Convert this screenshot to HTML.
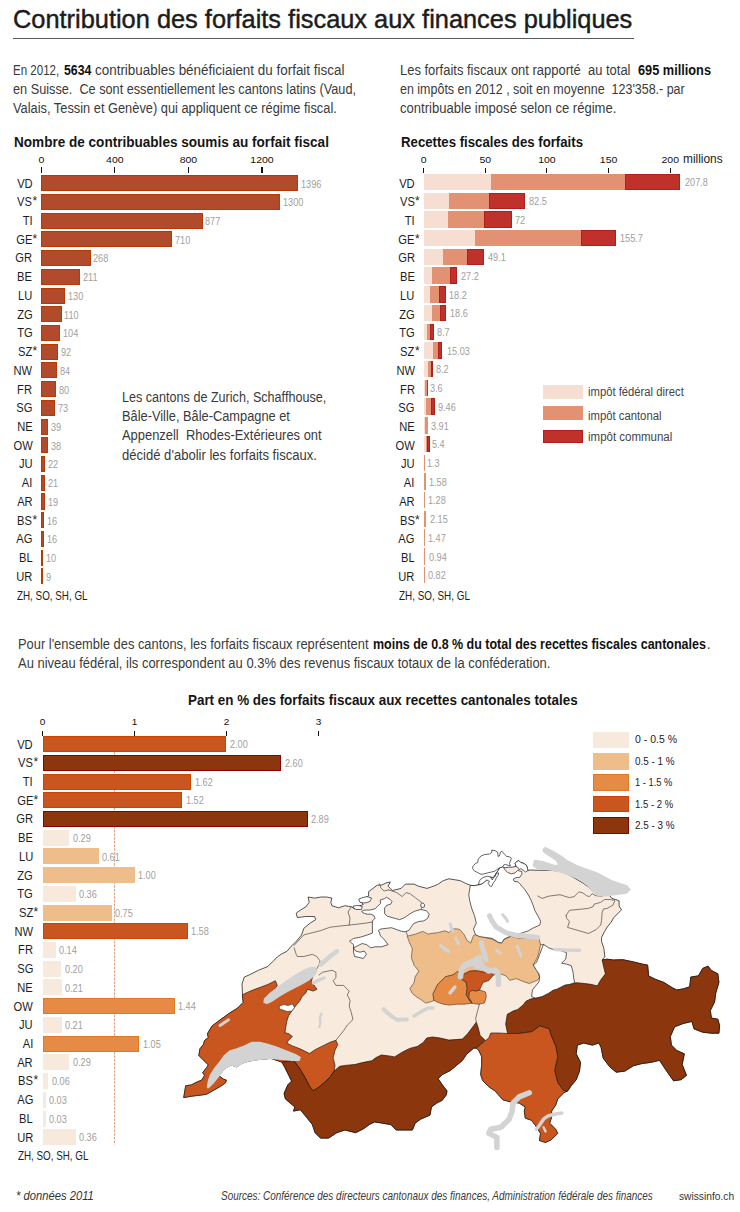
<!DOCTYPE html>
<html><head><meta charset="utf-8"><style>
html,body{margin:0;padding:0;background:#fff;}
body{width:740px;height:1212px;position:relative;overflow:hidden;font-family:"Liberation Sans", sans-serif;}
.t{position:absolute;white-space:nowrap;line-height:1;}
.r{position:absolute;box-sizing:border-box;}
svg{position:absolute;left:0;top:0;}
</style></head><body>
<svg width="740" height="1212" viewBox="0 0 740 1212" style="position:absolute;left:0;top:0">
<g stroke-linejoin="round" stroke-linecap="round">
<path d="M183.8,1097.2 L185.7,1085.8 L191.4,1084.9 L197.0,1082.0 L201.8,1080.1 L204.6,1075.4 L202.7,1072.6 L206.5,1067.8 L208.4,1065.0 L198.9,1055.5 L199.9,1048.9 L203.6,1044.2 L204.6,1040.4 L208.4,1037.6 L207.4,1033.8 L212.0,1026.0 L220.0,1020.0 L230.0,1012.8 L237.6,1008.1 L243.2,1002.4 L242.5,994.0 L242.0,984.0 L244.3,977.0 L249.0,975.0 L258.4,970.3 L267.8,966.5 L273.5,960.8 L277.3,957.0 L281.1,954.2 L286.8,951.4 L291.9,945.7 L296.2,941.4 L301.6,934.9 L303.8,928.4 L310.3,923.0 L315.7,919.7 L314.6,916.5 L305.9,916.5 L297.3,917.6 L296.2,913.2 L300.5,910.0 L305.9,906.8 L309.2,902.4 L308.1,897.0 L314.6,898.1 L321.1,897.0 L326.5,897.0 L331.9,898.1 L330.8,902.4 L331.9,905.7 L338.4,907.8 L344.9,905.7 L351.4,906.8 L354.6,908.9 L360.0,905.7 L363.2,904.6 L360.0,900.3 L364.3,898.1 L368.6,895.9 L368.6,891.6 L373.0,888.4 L377.3,885.1 L381.6,885.1 L385.9,883.0 L390.3,881.9 L388.1,886.2 L392.4,890.5 L401.1,888.4 L405.4,884.1 L414.1,884.1 L418.4,886.2 L427.0,888.4 L433.5,886.2 L437.6,884.5 L443.2,880.7 L448.9,878.8 L454.6,879.7 L460.3,880.7 L465.9,883.5 L470.7,885.4 L474.5,885.7 L479.2,884.7 L482.0,883.8 L486.8,880.0 L490.5,877.2 L493.4,877.6 L496.2,873.4 L500.0,867.7 L502.8,866.8 L503.8,867.7 L505.7,867.7 L508.5,867.2 L512.3,867.2 L516.1,866.3 L515.1,863.4 L516.6,861.6 L518.9,860.6 L520.8,862.5 L523.7,863.4 L526.5,865.3 L527.4,868.2 L527.9,870.5 L530.0,870.0 L535.0,870.2 L540.0,870.3 L550.8,870.3 L561.6,871.4 L572.4,876.8 L583.2,883.2 L591.9,889.7 L598.4,895.1 L608.2,893.8 L612.0,898.5 L615.8,899.5 L619.1,900.9 L619.1,906.1 L621.5,909.9 L618.7,912.7 L613.9,917.4 L611.1,922.2 L607.3,926.9 L604.5,931.6 L601.6,937.3 L601.6,941.6 L603.8,948.1 L604.9,956.8 L602.2,960.0 L607.0,959.2 L613.5,960.0 L622.7,959.7 L633.5,961.9 L642.2,964.1 L647.6,965.1 L648.6,975.9 L655.1,979.2 L663.8,982.4 L672.4,987.8 L676.8,990.0 L683.2,988.9 L689.7,986.8 L690.8,977.0 L698.4,975.9 L702.7,968.4 L708.1,966.2 L711.4,970.5 L717.8,973.8 L718.9,982.4 L715.7,993.2 L714.6,1001.9 L710.3,1010.5 L711.4,1018.1 L717.8,1019.2 L719.6,1025.7 L718.9,1033.2 L711.4,1033.2 L702.7,1032.2 L694.1,1028.9 L691.9,1021.4 L683.2,1023.5 L674.6,1026.8 L670.3,1036.5 L671.4,1045.1 L676.8,1050.5 L684.3,1053.8 L682.2,1064.6 L686.5,1075.4 L681.1,1079.7 L673.5,1080.8 L668.1,1073.2 L663.8,1066.8 L659.5,1060.3 L650.8,1062.4 L642.2,1063.5 L633.5,1065.7 L624.9,1071.1 L616.2,1072.2 L609.7,1066.8 L603.2,1058.1 L601.1,1047.3 L598.9,1043.0 L592.4,1045.1 L583.8,1043.0 L577.3,1045.1 L576.2,1053.8 L580.5,1062.4 L579.5,1071.1 L576.2,1079.7 L570.8,1086.2 L567.8,1090.8 L563.8,1092.8 L557.7,1098.9 L555.7,1105.0 L551.6,1111.1 L551.6,1117.2 L549.6,1123.2 L555.7,1129.3 L557.7,1133.4 L551.6,1139.5 L545.5,1142.5 L539.5,1140.5 L540.5,1133.4 L535.4,1125.3 L531.4,1120.2 L525.3,1118.2 L524.3,1111.1 L525.3,1107.0 L519.2,1103.0 L511.1,1102.0 L503.0,1099.9 L494.9,1090.8 L488.8,1086.8 L482.7,1080.7 L480.7,1074.6 L481.7,1064.5 L481.7,1056.4 L478.7,1050.3 L476.6,1048.0 L473.6,1048.2 L466.5,1054.3 L462.4,1060.4 L456.4,1065.5 L450.3,1070.5 L442.2,1074.6 L438.1,1078.7 L442.2,1084.7 L447.0,1091.0 L446.2,1094.9 L442.2,1100.3 L436.8,1103.0 L431.4,1107.0 L430.0,1115.1 L420.5,1119.2 L415.1,1123.2 L412.4,1130.0 L404.3,1130.0 L396.2,1130.0 L390.8,1124.6 L382.7,1123.2 L374.6,1121.9 L369.2,1124.6 L363.8,1128.6 L355.7,1132.7 L344.9,1130.0 L336.8,1132.7 L328.6,1138.1 L320.5,1138.1 L315.1,1132.7 L312.4,1124.6 L307.0,1117.8 L300.3,1109.7 L293.5,1111.1 L294.9,1107.0 L285.4,1098.9 L284.1,1093.5 L287.8,1084.9 L291.6,1081.1 L288.8,1075.4 L285.0,1067.8 L282.2,1062.2 L270.8,1058.4 L259.5,1059.3 L248.1,1061.2 L242.4,1063.1 L236.8,1066.9 L231.1,1065.0 L225.4,1067.8 L221.6,1072.6 L218.8,1073.5 L219.7,1076.3 L223.5,1079.2 L226.3,1080.1 L225.4,1083.0 L219.7,1086.8 L213.1,1090.5 L206.5,1094.3 L198.9,1095.3 L191.4,1096.2 Z" fill="#f8eadd" stroke="#2a2a2a" stroke-width="0.8"/>
<path d="M294.0,945.5 L303.8,934.9 L312.4,932.7 L321.1,930.5 L329.7,927.3 L338.4,926.2 L349.2,925.1 L357.8,924.1 L366.5,923.0 L373.0,921.9" fill="none" stroke="#3a3a3a" stroke-width="0.65"/>
<path d="M294.1,947.8 L296.2,954.3 L297.3,956.5 L303.8,956.5 L312.4,954.3 L316.8,956.5 L320.0,960.8 L318.9,965.1 L316.0,970.0" fill="none" stroke="#3a3a3a" stroke-width="0.65"/>
<path d="M351.4,906.8 L348.0,912.0 L350.0,918.0 L349.2,925.1" fill="none" stroke="#3a3a3a" stroke-width="0.65"/>
<path d="M388.6,889.9 L396.8,892.6 L402.2,896.6 L406.2,892.6 L410.3,893.9 L415.7,898.0 L421.1,902.0 L422.4,906.1 L421.1,909.5" fill="none" stroke="#3a3a3a" stroke-width="0.65"/>
<path d="M379.5,884.0 L381.0,888.0 L384.0,891.0 L388.6,889.9" fill="none" stroke="#3a3a3a" stroke-width="0.65"/>
<path d="M335.9,1040.3 L343.5,1030.8 L347.3,1025.1 L353.0,1019.5 L351.1,1011.9 L349.2,1006.2 L350.1,1000.5 L347.3,994.9 L349.2,991.1 L343.5,985.4 L335.9,985.4 L333.1,980.7 L335.9,977.8 L335.9,972.2 L332.2,970.3 L322.7,972.2 L318.9,975.0" fill="none" stroke="#3a3a3a" stroke-width="0.65"/>
<path d="M407.6,920.8 L410.0,926.0 L406.0,931.0 L407.6,936.1" fill="none" stroke="#3a3a3a" stroke-width="0.65"/>
<path d="M537.8,896.0 L542.2,898.4 L548.6,896.2 L560.0,894.7 L565.7,896.6 L569.5,897.6 L574.2,896.6 L577.0,893.8 L578.9,891.9 L582.7,892.8 L586.5,895.7 L589.3,896.6 L592.2,893.8 L596.0,895.7 L601.0,896.5 L608.2,893.8" fill="none" stroke="#3a3a3a" stroke-width="0.65"/>
<path d="M566.1,915.5 L569.5,910.3 L578.9,909.4 L588.4,908.4 L593.1,906.6 L594.1,904.2 L600.7,902.3 L604.5,899.5 L610.1,899.5 L614.9,900.4 L613.0,905.1 L607.3,908.4 L603.5,908.9 L602.1,912.7 L601.6,920.3 L600.7,925.0 L596.0,929.7 L588.4,933.5 L578.9,930.7 L572.3,928.8 L567.6,927.4 L569.5,921.2 L566.6,918.4 L566.1,915.5" fill="none" stroke="#3a3a3a" stroke-width="0.65"/>
<path d="M540.5,944.6 L543.8,944.6" fill="none" stroke="#3a3a3a" stroke-width="0.65"/>
<path d="M479.5,1004.2 L477.6,1010.8 L475.7,1018.4 L476.3,1022.2" fill="none" stroke="#3a3a3a" stroke-width="0.65"/>
<path d="M183.8,1097.2 L185.7,1085.8 L191.4,1084.9 L197.0,1082.0 L201.8,1080.1 L204.6,1075.4 L202.7,1072.6 L206.5,1067.8 L208.4,1065.0 L198.9,1055.5 L199.9,1048.9 L203.6,1044.2 L204.6,1040.4 L208.4,1037.6 L207.4,1033.8 L212.0,1026.0 L220.0,1020.0 L230.0,1012.8 L237.6,1008.1 L243.2,1002.4 L242.3,994.9 L246.1,993.0 L252.7,990.1 L260.3,987.3 L267.8,984.5 L275.4,980.7 L277.3,985.4 L273.5,991.1 L267.8,996.8 L266.9,1000.5 L273.5,998.6 L281.1,994.9 L286.8,989.2 L294.3,985.4 L301.9,982.6 L309.5,977.8 L313.2,975.0 L311.3,981.6 L317.0,989.2 L313.2,991.1 L307.6,989.2 L305.7,993.0 L301.9,996.8 L300.0,1000.5 L294.0,1008.0 L288.6,1015.7 L286.8,1021.3 L285.8,1027.0 L284.9,1032.7 L288.6,1033.6 L292.4,1036.5 L288.6,1040.3 L286.8,1043.1 L292.4,1045.9 L300.0,1048.8 L305.7,1051.6 L309.5,1053.5 L315.1,1049.7 L322.7,1045.9 L330.3,1042.2 L335.9,1040.3 L337.8,1044.6 L335.0,1050.3 L333.1,1057.8 L335.0,1065.4 L334.1,1071.1 L330.3,1076.8 L324.6,1082.4 L318.9,1087.2 L313.2,1090.9 L309.5,1086.2 L304.9,1077.3 L299.2,1067.8 L293.5,1060.3 L282.2,1062.2 L270.8,1058.4 L259.5,1059.3 L248.1,1061.2 L242.4,1063.1 L236.8,1066.9 L231.1,1065.0 L225.4,1067.8 L221.6,1072.6 L218.8,1073.5 L219.7,1076.3 L223.5,1079.2 L226.3,1080.1 L225.4,1083.0 L219.7,1086.8 L213.1,1090.5 L206.5,1094.3 L198.9,1095.3 L191.4,1096.2 Z" fill="#c9551f" stroke="#2a1a10" stroke-width="0.7"/>
<path d="M279.5,1006.0 L284.0,1004.5 L288.0,1005.5 L292.5,1004.0 L294.5,1007.5 L292.0,1011.0 L287.0,1011.5 L283.0,1010.0 L279.5,1009.0 Z" fill="#fff" stroke="#333" stroke-width="0.6"/>
<path d="M282.2,1062.2 L293.5,1060.3 L299.2,1067.8 L304.9,1077.3 L309.5,1086.2 L313.2,1090.9 L318.9,1087.2 L324.6,1082.4 L330.3,1076.8 L334.1,1071.1 L339.7,1066.3 L345.4,1065.4 L354.9,1064.5 L362.4,1062.6 L371.9,1060.7 L375.7,1057.8 L381.3,1055.0 L388.9,1055.9 L394.6,1056.9 L402.2,1052.2 L409.7,1048.4 L417.3,1046.5 L423.0,1042.7 L426.8,1038.0 L432.4,1037.0 L440.0,1038.0 L448.9,1040.1 L462.4,1039.1 L467.8,1033.5 L473.5,1026.0 L476.3,1022.2 L478.2,1027.8 L480.1,1035.4 L484.9,1040.1 L480.7,1044.2 L476.6,1048.0 L473.6,1048.2 L466.5,1054.3 L462.4,1060.4 L456.4,1065.5 L450.3,1070.5 L442.2,1074.6 L438.1,1078.7 L442.2,1084.7 L447.0,1091.0 L446.2,1094.9 L442.2,1100.3 L436.8,1103.0 L431.4,1107.0 L430.0,1115.1 L420.5,1119.2 L415.1,1123.2 L412.4,1130.0 L404.3,1130.0 L396.2,1130.0 L390.8,1124.6 L382.7,1123.2 L374.6,1121.9 L369.2,1124.6 L363.8,1128.6 L355.7,1132.7 L344.9,1130.0 L336.8,1132.7 L328.6,1138.1 L320.5,1138.1 L315.1,1132.7 L312.4,1124.6 L307.0,1117.8 L300.3,1109.7 L293.5,1111.1 L294.9,1107.0 L285.4,1098.9 L284.1,1093.5 L287.8,1084.9 L291.6,1081.1 L288.8,1075.4 L285.0,1067.8 Z" fill="#8c360e" stroke="#1e0e06" stroke-width="0.7"/>
<path d="M507.6,1033.5 L505.7,1024.1 L507.3,1014.3 L513.0,1011.1 L517.8,1009.5 L523.5,1004.6 L525.9,1001.3 L530.8,998.9 L535.7,998.1 L542.2,996.5 L548.6,993.2 L553.5,990.0 L556.8,989.2 L564.9,985.1 L569.7,984.3 L576.2,982.7 L584.3,983.5 L590.8,984.3 L597.3,985.9 L600.5,980.3 L605.4,973.8 L603.8,967.3 L602.2,960.0 L607.0,959.2 L613.5,960.0 L622.7,959.7 L633.5,961.9 L642.2,964.1 L647.6,965.1 L648.6,975.9 L655.1,979.2 L663.8,982.4 L672.4,987.8 L676.8,990.0 L683.2,988.9 L689.7,986.8 L690.8,977.0 L698.4,975.9 L702.7,968.4 L708.1,966.2 L711.4,970.5 L717.8,973.8 L718.9,982.4 L715.7,993.2 L714.6,1001.9 L710.3,1010.5 L711.4,1018.1 L717.8,1019.2 L719.6,1025.7 L718.9,1033.2 L711.4,1033.2 L702.7,1032.2 L694.1,1028.9 L691.9,1021.4 L683.2,1023.5 L674.6,1026.8 L670.3,1036.5 L671.4,1045.1 L676.8,1050.5 L684.3,1053.8 L682.2,1064.6 L686.5,1075.4 L681.1,1079.7 L673.5,1080.8 L668.1,1073.2 L663.8,1066.8 L659.5,1060.3 L650.8,1062.4 L642.2,1063.5 L633.5,1065.7 L624.9,1071.1 L616.2,1072.2 L609.7,1066.8 L603.2,1058.1 L601.1,1047.3 L598.9,1043.0 L592.4,1045.1 L583.8,1043.0 L577.3,1045.1 L576.2,1053.8 L580.5,1062.4 L579.5,1071.1 L576.2,1079.7 L570.8,1086.2 L567.8,1090.8 L563.8,1090.8 L557.7,1082.7 L554.7,1070.5 L557.7,1056.4 L555.7,1046.2 L551.1,1035.4 L549.2,1028.8 L539.7,1025.9 L532.2,1031.6 L518.9,1033.5 Z" fill="#8c360e" stroke="#1e0e06" stroke-width="0.7"/>
<path d="M476.6,1048.0 L480.7,1044.2 L488.8,1038.1 L490.8,1033.0 L498.9,1033.0 L507.6,1033.5 L518.9,1033.5 L532.2,1031.6 L539.7,1025.9 L549.2,1028.8 L551.1,1035.4 L555.7,1046.2 L557.7,1056.4 L554.7,1070.5 L557.7,1082.7 L563.8,1090.8 L567.8,1090.8 L563.8,1092.8 L557.7,1098.9 L555.7,1105.0 L551.6,1111.1 L551.6,1117.2 L549.6,1123.2 L555.7,1129.3 L557.7,1133.4 L551.6,1139.5 L545.5,1142.5 L539.5,1140.5 L540.5,1133.4 L535.4,1125.3 L531.4,1120.2 L525.3,1118.2 L524.3,1111.1 L525.3,1107.0 L519.2,1103.0 L511.1,1102.0 L503.0,1099.9 L494.9,1090.8 L488.8,1086.8 L482.7,1080.7 L480.7,1074.6 L481.7,1064.5 L481.7,1056.4 L478.7,1050.3 Z" fill="#c9551f" stroke="#2a1a10" stroke-width="0.7"/>
<path d="M407.6,936.1 L415.1,934.2 L422.7,931.4 L428.4,934.2 L430.0,933.6 L437.6,932.7 L445.1,930.8 L448.9,932.7 L452.7,928.9 L457.4,928.9 L460.3,929.9 L464.1,934.6 L466.9,940.3 L470.7,943.1 L473.5,935.5 L475.4,934.6 L484.9,937.4 L492.4,939.3 L500.0,943.1 L503.8,940.3 L505.7,938.4 L511.3,936.5 L518.9,938.4 L528.4,938.4 L537.8,937.4 L538.9,938.1 L540.5,944.6 L538.9,952.7 L537.3,957.6 L533.2,964.9 L537.3,970.5 L539.7,977.0 L537.3,980.3 L529.2,983.5 L524.3,981.9 L516.2,978.6 L509.7,980.3 L505.9,975.8 L500.3,973.9 L493.6,974.9 L490.8,973.0 L483.2,972.0 L475.7,970.7 L470.0,971.1 L464.3,973.9 L462.4,971.1 L456.8,972.0 L453.0,974.9 L445.4,976.8 L437.8,984.3 L433.1,993.8 L434.1,1000.4 L430.5,1001.9 L425.7,1003.1 L420.8,999.5 L415.9,996.4 L412.3,993.4 L409.9,988.5 L414.2,982.4 L415.1,976.8 L418.9,971.1 L414.2,965.4 L411.4,957.8 L412.3,948.4 L409.5,942.7 Z" fill="#eebd89" stroke="#4a3a2a" stroke-width="0.6"/>
<path d="M433.1,993.8 L437.8,984.3 L445.4,976.8 L453.0,974.9 L456.8,972.0 L462.4,971.1 L463.4,974.9 L461.5,979.6 L466.2,982.4 L467.2,988.1 L466.2,994.7 L469.1,999.5 L471.9,1003.2 L464.3,1004.2 L456.8,1004.2 L449.2,1005.1 L443.5,1004.2 L437.8,1002.3 L434.1,1000.4 Z" fill="#e58b45" stroke="#4a3020" stroke-width="0.6"/>
<path d="M470.0,990.5 L476.0,990.9 L480.0,990.0 L485.5,992.0 L486.3,997.0 L484.5,1003.0 L478.0,1004.3 L472.0,1003.2 L469.5,998.0 L469.1,992.8 Z" fill="#e58b45" stroke="#4a3020" stroke-width="0.6"/>
<path d="M461.5,978.6 L464.3,973.9 L470.0,971.1 L475.7,970.7 L483.2,972.0 L490.8,973.0 L493.6,974.9 L488.9,980.5 L483.2,982.4 L481.3,986.2 L479.5,990.0 L475.7,990.9 L471.9,990.0 L469.1,992.8 L468.1,997.6 L471.9,1003.2 L469.1,999.5 L466.2,994.7 L467.2,988.1 L466.2,982.4 Z" fill="#c9551f" stroke="#3a2010" stroke-width="0.6"/>
<path d="M380.5,900.0 L384.6,898.6 L386.6,897.3 L390.0,899.3 L392.0,901.4 L390.7,904.1 L386.6,905.4 L384.6,908.1 L384.6,913.5 L387.3,916.2 L394.1,918.2 L399.5,919.6 L403.5,918.2 L407.6,915.5 L411.6,912.8 L415.7,910.8 L421.1,909.5 L426.5,910.8 L429.2,914.2 L427.8,918.2 L423.8,920.9 L418.4,921.6 L413.6,923.6 L411.6,926.4 L408.9,930.4 L404.9,931.8 L400.8,931.1 L395.4,929.1 L391.4,927.7 L385.9,928.4 L380.5,929.1 L378.5,930.4 L380.5,935.8 L384.6,939.9 L388.1,944.6 L381.6,946.8 L375.1,946.8 L370.8,947.8 L366.5,944.6 L362.2,943.5 L357.8,945.7 L353.5,947.8 L355.7,951.1 L360.0,952.2 L364.3,951.1 L366.5,954.3 L363.2,958.6 L360.0,957.6 L354.6,956.5 L353.5,952.2 L353.5,944.6 L349.5,941.2 L353.5,938.5 L360.3,937.2 L367.0,935.1 L372.4,933.1 L372.4,921.0 L375.1,918.2 L373.8,915.5 L371.1,914.2 L367.0,914.2 L363.0,912.8 L361.6,911.5 L364.3,910.1 L369.7,910.1 L375.1,908.8 L377.8,906.1 L380.5,903.4 Z" fill="#fff" stroke="#222" stroke-width="0.7"/>
<path d="M353.5,906.0 L358.0,905.4 L362.3,906.5 L361.5,909.5 L356.0,909.5 L353.8,908.0 Z" fill="#fff" stroke="#222" stroke-width="0.7"/>
<path d="M359.0,899.0 L363.0,897.5 L367.0,896.6 L371.5,898.0 L370.0,901.5 L365.0,903.0 L360.5,902.5 Z" fill="#fff" stroke="#222" stroke-width="0.7"/>
<path d="M421.0,904.5 L422.8,902.7 L424.5,904.5 L424.3,907.0 L422.5,907.5 L421.0,906.5 Z" fill="#fff" stroke="#222" stroke-width="0.7"/>
<path d="M470.7,885.4 L474.5,885.7 L479.2,884.7 L482.0,883.8 L486.8,880.0 L490.5,877.2 L493.4,877.6 L496.2,873.4 L500.0,867.7 L502.8,866.8 L503.8,867.7 L504.7,869.6 L507.6,872.4 L511.4,873.9 L515.1,872.9 L517.5,870.5 L521.8,871.5 L521.8,874.3 L519.9,877.2 L516.1,877.6 L513.2,879.1 L514.2,881.4 L518.0,881.9 L519.9,883.8 L521.8,886.2 L524.6,889.2 L528.4,894.9 L531.2,900.5 L533.1,905.3 L535.0,910.9 L537.8,915.7 L540.7,921.3 L539.7,925.1 L533.1,928.0 L528.4,930.8 L522.7,932.7 L517.0,934.6 L509.5,936.5 L503.8,939.3 L501.9,943.1 L498.1,942.2 L492.4,938.4 L484.9,937.4 L479.2,936.5 L475.4,934.6 L473.5,928.9 L476.3,923.2 L474.5,915.7 L471.6,908.1 L469.7,900.5 L468.8,894.9 L469.7,889.2 Z" fill="#fff" stroke="#222" stroke-width="0.7"/>
<path d="M473.0,866.3 L475.4,863.4 L477.8,862.5 L478.2,859.2 L481.1,855.9 L484.9,854.5 L489.6,854.0 L492.0,852.1 L491.5,850.2 L495.3,850.7 L497.6,852.1 L498.1,856.4 L499.5,855.9 L500.5,852.1 L501.9,851.1 L504.7,854.5 L506.6,856.4 L509.5,856.8 L511.4,858.2 L510.4,861.1 L509.5,863.4 L510.4,865.8 L508.0,865.3 L505.7,864.4 L503.8,864.9 L502.8,866.8 L500.0,867.7 L497.2,869.1 L495.3,871.0 L491.5,872.0 L487.7,872.9 L483.9,873.9 L481.1,874.3 L477.3,872.4 L474.5,871.0 L473.0,869.1 Z" fill="#fff" stroke="#222" stroke-width="0.7"/>
<path d="M479.2,881.4 L480.6,879.1 L483.9,877.2 L487.7,876.2 L490.5,877.2 L492.4,880.0 L493.4,877.6 L495.3,876.2 L496.2,873.4 L498.6,872.9 L498.1,875.3 L496.2,878.1 L495.3,880.5 L493.4,882.8 L491.5,886.6 L489.6,885.7 L488.2,883.3 L489.6,881.4 L486.8,880.0 L483.9,882.4 L482.0,883.8 L479.2,884.7 Z" fill="#fff" stroke="#222" stroke-width="0.7"/>
<path d="M516.1,866.3 L515.1,863.4 L516.6,861.6 L518.9,860.6 L520.8,862.5 L523.7,863.4 L526.5,865.3 L527.4,868.2 L527.9,870.5 L525.5,872.0 L523.7,870.5 L520.8,868.7 L518.9,869.6 L518.0,867.7 Z" fill="#fff" stroke="#222" stroke-width="0.7"/>
<path d="M543.8,944.6 L548.6,947.8 L553.5,949.5 L560.0,950.3 L566.5,952.7 L565.7,959.2 L561.6,963.2 L566.5,964.1 L571.3,965.7 L573.0,972.2 L573.8,978.6 L574.6,982.7 L569.7,984.3 L564.9,985.1 L556.8,989.2 L553.5,990.0 L548.6,993.2 L542.2,996.5 L535.7,998.1 L531.6,996.5 L532.4,990.0 L534.9,986.8 L538.9,981.9 L539.7,977.0 L538.9,973.8 L536.5,970.5 L533.2,964.9 L536.5,962.4 L538.1,958.4 L539.7,954.3 L542.2,947.8 Z" fill="#fff" stroke="#222" stroke-width="0.7"/>
<path d="M207.4,1087.7 L208.4,1081.1 L210.3,1075.4 L215.0,1067.8 L219.7,1062.2 L224.5,1055.5 L230.1,1050.8 L236.8,1048.9 L244.3,1046.1 L251.9,1042.3 L259.5,1042.3 L267.0,1044.2 L276.5,1047.0 L285.9,1050.8 L295.4,1054.6 L300.1,1057.4 L299.2,1060.3 L291.6,1060.3 L282.2,1059.3 L270.8,1058.4 L259.5,1059.3 L248.1,1061.2 L242.4,1063.1 L236.8,1066.9 L231.1,1065.0 L225.4,1067.8 L221.6,1072.6 L217.8,1077.3 L213.1,1083.0 L208.4,1087.7 Z" fill="#d3d3d3" stroke="#d3d3d3" stroke-width="1.3"/>
<path d="M264.5,999.0 L270.0,993.5 L277.0,988.0 L284.0,983.0 L291.0,978.0 L298.0,973.5 L305.0,969.5 L311.0,967.5 L315.5,968.0 L316.5,971.5 L314.2,975.5 L308.0,980.5 L301.0,984.5 L293.0,988.5 L285.5,992.5 L278.0,997.0 L271.5,1001.5 L267.0,1003.5 L264.0,1002.5 Z" fill="#d3d3d3" stroke="#d3d3d3" stroke-width="1.3"/>
<path d="M545.4,847.5 L553.5,851.5 L561.6,856.5 L567.0,860.5 L574.6,864.5 L583.2,868.0 L591.9,871.0 L598.4,873.5 L604.9,877.0 L611.4,880.5 L620.0,883.5 L626.5,885.5 L630.0,889.5 L626.5,893.0 L615.7,894.5 L604.9,895.8 L598.4,895.8 L591.9,890.8 L586.5,884.3 L578.9,878.9 L570.3,875.7 L561.6,872.4 L553.0,870.3 L544.3,869.0 L537.3,868.4 L533.2,865.7 L534.6,860.3 L542.7,861.6 L553.5,865.2 L559.0,865.5 L556.2,860.3 L548.1,854.9 L544.0,852.2 L543.0,849.5 Z" fill="#d3d3d3" stroke="#d3d3d3" stroke-width="1.3"/>
<path d="M320.8,964.6 L326.0,960.0 L331.0,955.5 L336.9,951.4" fill="none" stroke="#d3d3d3" stroke-width="4.5"/>
<path d="M313.5,983.0 L318.0,980.5 L324.0,978.0" fill="none" stroke="#d3d3d3" stroke-width="3.5"/>
<path d="M383.7,1009.2 L388.0,1013.4 L392.8,1017.1 L397.7,1020.1 L402.6,1019.5 L406.8,1019.5" fill="none" stroke="#d3d3d3" stroke-width="4"/>
<path d="M414.1,1015.9 L418.4,1013.4 L423.2,1010.4 L428.1,1008.0 L433.0,1008.0" fill="none" stroke="#d3d3d3" stroke-width="3.5"/>
<path d="M489.6,915.7 L492.0,921.0 L496.2,927.0 L505.7,932.7 L517.0,935.5 L528.4,936.5 L537.8,937.4" fill="none" stroke="#d3d3d3" stroke-width="5"/>
<path d="M502.8,914.7 L505.5,918.0 L507.6,921.3" fill="none" stroke="#d3d3d3" stroke-width="3"/>
<path d="M555.1,949.5 L565.0,950.0 L579.5,950.3" fill="none" stroke="#d3d3d3" stroke-width="3.5"/>
<path d="M440.7,945.5 L444.0,948.5 L448.2,951.2" fill="none" stroke="#d3d3d3" stroke-width="3.5"/>
<path d="M455.8,938.0 L457.0,941.0 L458.6,943.6" fill="none" stroke="#d3d3d3" stroke-width="3"/>
<path d="M450.1,923.8 L451.5,928.0 L453.0,931.4" fill="none" stroke="#d3d3d3" stroke-width="3"/>
<path d="M454.9,987.2 L452.5,990.0 L450.1,992.8" fill="none" stroke="#d3d3d3" stroke-width="3.5"/>
<path d="M481.3,942.6 L482.5,948.0 L484.5,954.0 L486.1,959.7" fill="none" stroke="#d3d3d3" stroke-width="5"/>
<path d="M496.5,950.3 L500.3,953.1" fill="none" stroke="#d3d3d3" stroke-width="3"/>
<path d="M517.3,946.5 L519.0,951.0 L521.1,955.9" fill="none" stroke="#d3d3d3" stroke-width="3"/>
<path d="M460.5,976.8 L461.5,970.0 L464.0,965.5 L470.0,962.6 L474.7,960.5 L477.6,958.5 L480.0,962.0 L483.2,967.5 L488.9,971.1 L494.6,970.1 L497.4,972.0 L498.4,976.8 L498.4,984.3" fill="none" stroke="#d3d3d3" stroke-width="5.5"/>
<path d="M465.0,966.0 L472.0,964.0 L478.0,963.0 L482.0,967.0 L476.0,967.0" fill="none" stroke="#d3d3d3" stroke-width="4"/>
<path d="M477.6,958.8 L483.2,955.9" fill="none" stroke="#d3d3d3" stroke-width="3.5"/>
<path d="M462.4,967.3 L461.0,972.0 L460.5,976.8" fill="none" stroke="#d3d3d3" stroke-width="3"/>
<path d="M529.3,1092.8 L519.2,1096.9 L513.1,1103.0 L512.1,1111.1 L509.1,1119.2 L501.0,1127.3 L490.8,1129.3 L488.8,1133.4 L496.9,1137.4 L496.9,1147.6" fill="none" stroke="#d3d3d3" stroke-width="5.5"/>
<path d="M561.8,1113.1 L553.0,1114.5 L547.6,1116.2 L543.5,1119.2 L539.5,1125.3 L536.4,1129.3" fill="none" stroke="#d3d3d3" stroke-width="3.5"/>
<path d="M543.5,1127.3 L545.5,1131.4" fill="none" stroke="#d3d3d3" stroke-width="2.5"/>
<path d="M220.0,1025.5 L224.5,1022.5 L228.5,1019.8" fill="none" stroke="#d3d3d3" stroke-width="3"/>
<path d="M321.5,1013.5 L319.8,1018.0 L320.5,1023.0 L319.3,1027.0" fill="none" stroke="#d3d3d3" stroke-width="2.4"/>
</g></svg>
<div class="r" style="left:12.60px;top:38.00px;width:621.50px;height:1.00px;background:#5a5a5a;"></div>
<div class="r" style="left:40.75px;top:167.30px;width:1.10px;height:5.70px;background:#111;"></div>
<div class="r" style="left:114.31px;top:167.30px;width:1.10px;height:5.70px;background:#111;"></div>
<div class="r" style="left:187.87px;top:167.30px;width:1.10px;height:5.70px;background:#111;"></div>
<div class="r" style="left:261.43px;top:167.30px;width:1.10px;height:5.70px;background:#111;"></div>
<div class="r" style="left:41.30px;top:175.20px;width:256.72px;height:16.10px;background:#b24b2b;box-shadow: inset 0 0 0 1px #b83a00;"></div>
<div class="r" style="left:41.30px;top:193.92px;width:239.07px;height:16.10px;background:#b24b2b;box-shadow: inset 0 0 0 1px #b83a00;"></div>
<div class="r" style="left:41.30px;top:212.64px;width:161.28px;height:16.10px;background:#b24b2b;box-shadow: inset 0 0 0 1px #b83a00;"></div>
<div class="r" style="left:41.30px;top:231.36px;width:130.57px;height:16.10px;background:#b24b2b;box-shadow: inset 0 0 0 1px #b83a00;"></div>
<div class="r" style="left:41.30px;top:250.08px;width:49.29px;height:16.10px;background:#b24b2b;box-shadow: inset 0 0 0 1px #b83a00;"></div>
<div class="r" style="left:41.30px;top:268.80px;width:38.80px;height:16.10px;background:#b24b2b;box-shadow: inset 0 0 0 1px #b83a00;"></div>
<div class="r" style="left:41.30px;top:287.52px;width:23.91px;height:16.10px;background:#b24b2b;box-shadow: inset 0 0 0 1px #b83a00;"></div>
<div class="r" style="left:41.30px;top:306.24px;width:20.23px;height:16.10px;background:#b24b2b;box-shadow: inset 0 0 0 1px #b83a00;"></div>
<div class="r" style="left:41.30px;top:324.96px;width:19.13px;height:16.10px;background:#b24b2b;box-shadow: inset 0 0 0 1px #b83a00;"></div>
<div class="r" style="left:41.30px;top:343.68px;width:16.92px;height:16.10px;background:#b24b2b;box-shadow: inset 0 0 0 1px #b83a00;"></div>
<div class="r" style="left:41.30px;top:362.40px;width:15.45px;height:16.10px;background:#b24b2b;box-shadow: inset 0 0 0 1px #b83a00;"></div>
<div class="r" style="left:41.30px;top:381.12px;width:14.71px;height:16.10px;background:#b24b2b;box-shadow: inset 0 0 0 1px #b83a00;"></div>
<div class="r" style="left:41.30px;top:399.84px;width:13.42px;height:16.10px;background:#b24b2b;box-shadow: inset 0 0 0 1px #b83a00;"></div>
<div class="r" style="left:41.30px;top:418.56px;width:7.17px;height:16.10px;background:#b24b2b;box-shadow: inset 0 0 0 1px #b83a00;"></div>
<div class="r" style="left:41.30px;top:437.28px;width:6.99px;height:16.10px;background:#b24b2b;box-shadow: inset 0 0 0 1px #b83a00;"></div>
<div class="r" style="left:41.30px;top:456.00px;width:4.05px;height:16.10px;background:#b24b2b;box-shadow: inset 0 0 0 1px #b83a00;"></div>
<div class="r" style="left:41.30px;top:474.72px;width:3.86px;height:16.10px;background:#b24b2b;box-shadow: inset 0 0 0 1px #b83a00;"></div>
<div class="r" style="left:41.30px;top:493.44px;width:3.49px;height:16.10px;background:#b24b2b;box-shadow: inset 0 0 0 1px #b83a00;"></div>
<div class="r" style="left:41.30px;top:512.16px;width:2.94px;height:16.10px;background:#b24b2b;box-shadow: inset 0 0 0 1px #b83a00;"></div>
<div class="r" style="left:41.30px;top:530.88px;width:2.94px;height:16.10px;background:#b24b2b;box-shadow: inset 0 0 0 1px #b83a00;"></div>
<div class="r" style="left:41.30px;top:549.60px;width:1.84px;height:16.10px;background:#b24b2b;box-shadow: inset 0 0 0 1px #b83a00;"></div>
<div class="r" style="left:41.30px;top:568.32px;width:1.66px;height:16.10px;background:#b24b2b;box-shadow: inset 0 0 0 1px #b83a00;"></div>
<div class="r" style="left:423.05px;top:167.50px;width:1.10px;height:5.50px;background:#111;"></div>
<div class="r" style="left:484.73px;top:167.50px;width:1.10px;height:5.50px;background:#111;"></div>
<div class="r" style="left:546.40px;top:167.50px;width:1.10px;height:5.50px;background:#111;"></div>
<div class="r" style="left:608.08px;top:167.50px;width:1.10px;height:5.50px;background:#111;"></div>
<div class="r" style="left:669.75px;top:167.50px;width:1.10px;height:5.50px;background:#111;"></div>
<div class="r" style="left:423.60px;top:173.80px;width:256.60px;height:16.40px;background:#f7ded2;"></div>
<div class="r" style="left:490.80px;top:173.80px;width:189.40px;height:16.40px;background:#e29173;"></div>
<div class="r" style="left:625.10px;top:173.80px;width:55.10px;height:16.40px;background:#c0312b;box-shadow: inset 0 0 0 1px #b01e1e;"></div>
<div class="r" style="left:423.60px;top:192.52px;width:101.60px;height:16.40px;background:#f7ded2;"></div>
<div class="r" style="left:449.00px;top:192.52px;width:76.20px;height:16.40px;background:#e29173;"></div>
<div class="r" style="left:489.00px;top:192.52px;width:36.20px;height:16.40px;background:#c0312b;box-shadow: inset 0 0 0 1px #b01e1e;"></div>
<div class="r" style="left:423.60px;top:211.24px;width:88.60px;height:16.40px;background:#f7ded2;"></div>
<div class="r" style="left:448.20px;top:211.24px;width:64.00px;height:16.40px;background:#e29173;"></div>
<div class="r" style="left:484.10px;top:211.24px;width:28.10px;height:16.40px;background:#c0312b;box-shadow: inset 0 0 0 1px #b01e1e;"></div>
<div class="r" style="left:423.60px;top:229.96px;width:192.10px;height:16.40px;background:#f7ded2;"></div>
<div class="r" style="left:474.60px;top:229.96px;width:141.10px;height:16.40px;background:#e29173;"></div>
<div class="r" style="left:580.50px;top:229.96px;width:35.20px;height:16.40px;background:#c0312b;box-shadow: inset 0 0 0 1px #b01e1e;"></div>
<div class="r" style="left:423.60px;top:248.68px;width:60.30px;height:16.40px;background:#f7ded2;"></div>
<div class="r" style="left:442.80px;top:248.68px;width:41.10px;height:16.40px;background:#e29173;"></div>
<div class="r" style="left:467.40px;top:248.68px;width:16.50px;height:16.40px;background:#c0312b;box-shadow: inset 0 0 0 1px #b01e1e;"></div>
<div class="r" style="left:423.60px;top:267.40px;width:33.40px;height:16.40px;background:#f7ded2;"></div>
<div class="r" style="left:431.80px;top:267.40px;width:25.20px;height:16.40px;background:#e29173;"></div>
<div class="r" style="left:449.70px;top:267.40px;width:7.30px;height:16.40px;background:#c0312b;box-shadow: inset 0 0 0 1px #b01e1e;"></div>
<div class="r" style="left:423.60px;top:286.12px;width:22.30px;height:16.40px;background:#f7ded2;"></div>
<div class="r" style="left:430.40px;top:286.12px;width:15.50px;height:16.40px;background:#e29173;"></div>
<div class="r" style="left:438.50px;top:286.12px;width:7.40px;height:16.40px;background:#c0312b;box-shadow: inset 0 0 0 1px #b01e1e;"></div>
<div class="r" style="left:423.60px;top:304.84px;width:22.80px;height:16.40px;background:#f7ded2;"></div>
<div class="r" style="left:432.20px;top:304.84px;width:14.20px;height:16.40px;background:#e29173;"></div>
<div class="r" style="left:440.30px;top:304.84px;width:6.10px;height:16.40px;background:#c0312b;box-shadow: inset 0 0 0 1px #b01e1e;"></div>
<div class="r" style="left:423.60px;top:323.56px;width:10.60px;height:16.40px;background:#f7ded2;"></div>
<div class="r" style="left:427.00px;top:323.56px;width:7.20px;height:16.40px;background:#e29173;"></div>
<div class="r" style="left:429.90px;top:323.56px;width:4.30px;height:16.40px;background:#c0312b;box-shadow: inset 0 0 0 1px #b01e1e;"></div>
<div class="r" style="left:423.60px;top:342.28px;width:18.40px;height:16.40px;background:#f7ded2;"></div>
<div class="r" style="left:432.80px;top:342.28px;width:9.20px;height:16.40px;background:#e29173;"></div>
<div class="r" style="left:437.60px;top:342.28px;width:4.40px;height:16.40px;background:#c0312b;box-shadow: inset 0 0 0 1px #b01e1e;"></div>
<div class="r" style="left:423.60px;top:361.00px;width:9.90px;height:16.40px;background:#f7ded2;"></div>
<div class="r" style="left:427.80px;top:361.00px;width:5.70px;height:16.40px;background:#e29173;"></div>
<div class="r" style="left:431.10px;top:361.00px;width:2.40px;height:16.40px;background:#c0312b;box-shadow: inset 0 0 0 1px #b01e1e;"></div>
<div class="r" style="left:423.60px;top:379.72px;width:4.60px;height:16.40px;background:#f7ded2;"></div>
<div class="r" style="left:424.60px;top:379.72px;width:3.60px;height:16.40px;background:#e29173;"></div>
<div class="r" style="left:427.00px;top:379.72px;width:1.20px;height:16.40px;background:#c0312b;"></div>
<div class="r" style="left:423.60px;top:398.44px;width:11.40px;height:16.40px;background:#f7ded2;"></div>
<div class="r" style="left:426.40px;top:398.44px;width:8.60px;height:16.40px;background:#e29173;"></div>
<div class="r" style="left:431.00px;top:398.44px;width:4.00px;height:16.40px;background:#c0312b;box-shadow: inset 0 0 0 1px #b01e1e;"></div>
<div class="r" style="left:423.60px;top:417.16px;width:4.80px;height:16.40px;background:#f7ded2;"></div>
<div class="r" style="left:424.60px;top:417.16px;width:3.80px;height:16.40px;background:#e29173;"></div>
<div class="r" style="left:423.60px;top:435.88px;width:6.50px;height:16.40px;background:#f7ded2;"></div>
<div class="r" style="left:426.10px;top:435.88px;width:4.00px;height:16.40px;background:#e29173;"></div>
<div class="r" style="left:427.20px;top:435.88px;width:2.90px;height:16.40px;background:#c0312b;box-shadow: inset 0 0 0 1px #b01e1e;"></div>
<div class="r" style="left:423.60px;top:454.60px;width:1.60px;height:16.40px;background:#e29173;"></div>
<div class="r" style="left:423.60px;top:473.32px;width:1.95px;height:16.40px;background:#e29173;"></div>
<div class="r" style="left:423.60px;top:492.04px;width:1.58px;height:16.40px;background:#e29173;"></div>
<div class="r" style="left:423.60px;top:510.76px;width:2.65px;height:16.40px;background:#e29173;"></div>
<div class="r" style="left:423.60px;top:529.48px;width:1.81px;height:16.40px;background:#e29173;"></div>
<div class="r" style="left:423.60px;top:548.20px;width:1.40px;height:16.40px;background:#e29173;"></div>
<div class="r" style="left:423.60px;top:566.92px;width:1.40px;height:16.40px;background:#e29173;"></div>
<div class="r" style="left:542.60px;top:384.80px;width:40.40px;height:14.00px;background:#f7ded2;"></div>
<div class="r" style="left:542.60px;top:406.40px;width:40.40px;height:13.60px;background:#e29173;"></div>
<div class="r" style="left:542.60px;top:430.20px;width:40.40px;height:13.20px;background:#c0312b;box-shadow: inset 0 0 0 1px #b01e1e;"></div>
<div class="r" style="left:41.95px;top:731.00px;width:1.10px;height:4.80px;background:#111;"></div>
<div class="r" style="left:133.95px;top:731.00px;width:1.10px;height:4.80px;background:#111;"></div>
<div class="r" style="left:225.95px;top:731.00px;width:1.10px;height:4.80px;background:#111;"></div>
<div class="r" style="left:317.95px;top:731.00px;width:1.10px;height:4.80px;background:#111;"></div>
<svg width="740" height="1212" style="position:absolute;left:0;top:0"><line x1="114.6" y1="752" x2="114.6" y2="1144.5" stroke="#dc9a78" stroke-width="1" stroke-dasharray="2.6 1.1"/></svg>
<div class="r" style="left:42.80px;top:736.10px;width:183.50px;height:16.00px;background:#c9551f;box-shadow: inset 0 0 0 1px #cc4400;"></div>
<div class="r" style="left:42.80px;top:754.82px;width:238.55px;height:16.00px;background:#8c360e;box-shadow: inset 0 0 0 1px #8b0000;"></div>
<div class="r" style="left:42.80px;top:773.54px;width:148.64px;height:16.00px;background:#c9551f;box-shadow: inset 0 0 0 1px #cc4400;"></div>
<div class="r" style="left:42.80px;top:792.26px;width:139.46px;height:16.00px;background:#c9551f;box-shadow: inset 0 0 0 1px #cc4400;"></div>
<div class="r" style="left:42.80px;top:810.98px;width:265.16px;height:16.00px;background:#8c360e;box-shadow: inset 0 0 0 1px #8b0000;"></div>
<div class="r" style="left:42.80px;top:829.70px;width:26.61px;height:16.00px;background:#f7eadd;"></div>
<div class="r" style="left:42.80px;top:848.42px;width:55.97px;height:16.00px;background:#eebd89;"></div>
<div class="r" style="left:42.80px;top:867.14px;width:91.75px;height:16.00px;background:#eebd89;"></div>
<div class="r" style="left:42.80px;top:885.86px;width:33.03px;height:16.00px;background:#f7eadd;"></div>
<div class="r" style="left:42.80px;top:904.58px;width:68.81px;height:16.00px;background:#eebd89;"></div>
<div class="r" style="left:42.80px;top:923.30px;width:144.97px;height:16.00px;background:#c9551f;box-shadow: inset 0 0 0 1px #cc4400;"></div>
<div class="r" style="left:42.80px;top:942.02px;width:12.85px;height:16.00px;background:#f7eadd;"></div>
<div class="r" style="left:42.80px;top:960.74px;width:18.35px;height:16.00px;background:#f7eadd;"></div>
<div class="r" style="left:42.80px;top:979.46px;width:19.27px;height:16.00px;background:#f7eadd;"></div>
<div class="r" style="left:42.80px;top:998.18px;width:132.12px;height:16.00px;background:#e58b45;box-shadow: inset 0 0 0 1px #e07a22;"></div>
<div class="r" style="left:42.80px;top:1016.90px;width:19.27px;height:16.00px;background:#f7eadd;"></div>
<div class="r" style="left:42.80px;top:1035.62px;width:96.34px;height:16.00px;background:#e58b45;box-shadow: inset 0 0 0 1px #e07a22;"></div>
<div class="r" style="left:42.80px;top:1054.34px;width:26.61px;height:16.00px;background:#f7eadd;"></div>
<div class="r" style="left:42.80px;top:1073.06px;width:5.50px;height:16.00px;background:#f7eadd;"></div>
<div class="r" style="left:42.80px;top:1091.78px;width:2.75px;height:16.00px;background:#f7eadd;"></div>
<div class="r" style="left:42.80px;top:1110.50px;width:2.75px;height:16.00px;background:#f7eadd;"></div>
<div class="r" style="left:42.80px;top:1129.22px;width:33.03px;height:16.00px;background:#f7eadd;"></div>
<div class="r" style="left:593.10px;top:731.50px;width:36.20px;height:16.80px;background:#f7eadd;"></div>
<div class="r" style="left:593.10px;top:753.00px;width:36.20px;height:16.80px;background:#eebd89;"></div>
<div class="r" style="left:593.10px;top:774.40px;width:36.20px;height:16.80px;background:#e58b45;box-shadow: inset 0 0 0 1px #e07a22;"></div>
<div class="r" style="left:593.10px;top:795.70px;width:36.20px;height:16.80px;background:#c9551f;box-shadow: inset 0 0 0 1px #cc4400;"></div>
<div class="r" style="left:593.10px;top:817.00px;width:36.20px;height:16.80px;background:#8c360e;box-shadow: inset 0 0 0 1px #8b0000;"></div>
<div class="t" id="t0" style="top:5.90px;font-size:26px;color:#1c1c1c;-webkit-text-stroke:0.45px #1c1c1c;left:12.70px;transform-origin:0 22.10px;transform:scale(0.9761,1.0);">Contribution des forfaits fiscaux aux finances publiques</div>
<div class="t" id="t1" style="top:63.10px;font-size:14px;color:#3a3a3a;left:13.40px;transform-origin:0 11.90px;transform:scale(0.8241,1.0);">En 2012,</div>
<div class="t" id="t2" style="top:63.10px;font-size:14px;color:#111;font-weight:bold;left:63.70px;transform-origin:0 11.90px;transform:scale(0.8826,1.0);">5634</div>
<div class="t" id="t3" style="top:63.10px;font-size:14px;color:#3a3a3a;left:94.90px;transform-origin:0 11.90px;transform:scale(0.9595,1.0);">contribuables bénéficiaient du forfait fiscal</div>
<div class="t" id="t4" style="top:82.10px;font-size:14px;color:#3a3a3a;left:13.40px;transform-origin:0 11.90px;transform:scale(0.9075,1.0);">en Suisse.&nbsp; Ce sont essentiellement les cantons latins (Vaud,</div>
<div class="t" id="t5" style="top:101.10px;font-size:14px;color:#3a3a3a;left:13.40px;transform-origin:0 11.90px;transform:scale(0.9158,1.0);">Valais, Tessin et Genève) qui appliquent ce régime fiscal.</div>
<div class="t" id="t6" style="top:63.10px;font-size:14px;color:#3a3a3a;left:400.00px;transform-origin:0 11.90px;transform:scale(0.9256,1.0);">Les forfaits fiscaux ont rapporté&nbsp; au total</div>
<div class="t" id="t7" style="top:63.10px;font-size:14px;color:#111;font-weight:bold;left:638.00px;transform-origin:0 11.90px;transform:scale(0.9107,1.0);">695 millions</div>
<div class="t" id="t8" style="top:82.10px;font-size:14px;color:#3a3a3a;left:400.00px;transform-origin:0 11.90px;transform:scale(0.8913,1.0);">en impôts en 2012 , soit en moyenne&nbsp; 123'358.- par</div>
<div class="t" id="t9" style="top:101.10px;font-size:14px;color:#3a3a3a;left:400.00px;transform-origin:0 11.90px;transform:scale(0.9331,1.0);">contribuable imposé selon ce régime.</div>
<div class="t" id="t10" style="top:134.68px;font-size:14.5px;color:#151515;font-weight:bold;left:14.10px;transform-origin:0 12.32px;transform:scale(0.9350,1.0);">Nombre de contribuables soumis au forfait fiscal</div>
<div class="t" id="t11" style="top:134.68px;font-size:14.5px;color:#151515;font-weight:bold;left:401.00px;transform-origin:0 12.32px;transform:scale(0.9106,1.0);">Recettes fiscales des forfaits</div>
<div class="t" id="t12" style="top:153.97px;font-size:10.5px;color:#111;left:41.30px;transform-origin:0 8.92px;margin-left:-2.92px;transform:scale(1.0000,0.87);">0</div>
<div class="t" id="t13" style="top:153.97px;font-size:10.5px;color:#111;left:114.86px;transform-origin:0 8.92px;margin-left:-8.77px;transform:scale(1.0000,0.87);">400</div>
<div class="t" id="t14" style="top:153.97px;font-size:10.5px;color:#111;left:188.42px;transform-origin:0 8.92px;margin-left:-8.77px;transform:scale(1.0000,0.87);">800</div>
<div class="t" id="t15" style="top:153.97px;font-size:10.5px;color:#111;left:261.98px;transform-origin:0 8.92px;margin-left:-11.68px;transform:scale(1.0000,0.87);">1200</div>
<div class="t" id="t16" style="top:177.60px;font-size:12px;color:#1e1e1e;right:707.80px;transform-origin:100% 10.20px;transform:scale(0.9300,1.0);">VD</div>
<div class="t" id="t17" style="top:196.32px;font-size:12px;color:#1e1e1e;right:707.80px;transform-origin:100% 10.20px;transform:scale(0.9300,1.0);">VS</div>
<div class="t" id="t18" style="top:195.32px;font-size:12px;color:#1e1e1e;left:32.50px;transform-origin:0 10.20px;">*</div>
<div class="t" id="t19" style="top:215.04px;font-size:12px;color:#1e1e1e;right:707.80px;transform-origin:100% 10.20px;transform:scale(0.9300,1.0);">TI</div>
<div class="t" id="t20" style="top:233.76px;font-size:12px;color:#1e1e1e;right:707.80px;transform-origin:100% 10.20px;transform:scale(0.9300,1.0);">GE</div>
<div class="t" id="t21" style="top:232.76px;font-size:12px;color:#1e1e1e;left:32.50px;transform-origin:0 10.20px;">*</div>
<div class="t" id="t22" style="top:252.48px;font-size:12px;color:#1e1e1e;right:707.80px;transform-origin:100% 10.20px;transform:scale(0.9300,1.0);">GR</div>
<div class="t" id="t23" style="top:271.20px;font-size:12px;color:#1e1e1e;right:707.80px;transform-origin:100% 10.20px;transform:scale(0.9300,1.0);">BE</div>
<div class="t" id="t24" style="top:289.92px;font-size:12px;color:#1e1e1e;right:707.80px;transform-origin:100% 10.20px;transform:scale(0.9300,1.0);">LU</div>
<div class="t" id="t25" style="top:308.64px;font-size:12px;color:#1e1e1e;right:707.80px;transform-origin:100% 10.20px;transform:scale(0.9300,1.0);">ZG</div>
<div class="t" id="t26" style="top:327.36px;font-size:12px;color:#1e1e1e;right:707.80px;transform-origin:100% 10.20px;transform:scale(0.9300,1.0);">TG</div>
<div class="t" id="t27" style="top:346.08px;font-size:12px;color:#1e1e1e;right:707.80px;transform-origin:100% 10.20px;transform:scale(0.9300,1.0);">SZ</div>
<div class="t" id="t28" style="top:345.08px;font-size:12px;color:#1e1e1e;left:32.50px;transform-origin:0 10.20px;">*</div>
<div class="t" id="t29" style="top:364.80px;font-size:12px;color:#1e1e1e;right:707.80px;transform-origin:100% 10.20px;transform:scale(0.9300,1.0);">NW</div>
<div class="t" id="t30" style="top:383.52px;font-size:12px;color:#1e1e1e;right:707.80px;transform-origin:100% 10.20px;transform:scale(0.9300,1.0);">FR</div>
<div class="t" id="t31" style="top:402.24px;font-size:12px;color:#1e1e1e;right:707.80px;transform-origin:100% 10.20px;transform:scale(0.9300,1.0);">SG</div>
<div class="t" id="t32" style="top:420.96px;font-size:12px;color:#1e1e1e;right:707.80px;transform-origin:100% 10.20px;transform:scale(0.9300,1.0);">NE</div>
<div class="t" id="t33" style="top:439.68px;font-size:12px;color:#1e1e1e;right:707.80px;transform-origin:100% 10.20px;transform:scale(0.9300,1.0);">OW</div>
<div class="t" id="t34" style="top:458.40px;font-size:12px;color:#1e1e1e;right:707.80px;transform-origin:100% 10.20px;transform:scale(0.9300,1.0);">JU</div>
<div class="t" id="t35" style="top:477.12px;font-size:12px;color:#1e1e1e;right:707.80px;transform-origin:100% 10.20px;transform:scale(0.9300,1.0);">AI</div>
<div class="t" id="t36" style="top:495.84px;font-size:12px;color:#1e1e1e;right:707.80px;transform-origin:100% 10.20px;transform:scale(0.9300,1.0);">AR</div>
<div class="t" id="t37" style="top:514.56px;font-size:12px;color:#1e1e1e;right:707.80px;transform-origin:100% 10.20px;transform:scale(0.9300,1.0);">BS</div>
<div class="t" id="t38" style="top:513.56px;font-size:12px;color:#1e1e1e;left:32.50px;transform-origin:0 10.20px;">*</div>
<div class="t" id="t39" style="top:533.28px;font-size:12px;color:#1e1e1e;right:707.80px;transform-origin:100% 10.20px;transform:scale(0.9300,1.0);">AG</div>
<div class="t" id="t40" style="top:552.00px;font-size:12px;color:#1e1e1e;right:707.80px;transform-origin:100% 10.20px;transform:scale(0.9300,1.0);">BL</div>
<div class="t" id="t41" style="top:570.72px;font-size:12px;color:#1e1e1e;right:707.80px;transform-origin:100% 10.20px;transform:scale(0.9300,1.0);">UR</div>
<div class="t" id="t42" style="top:178.57px;font-size:10.5px;color:#a0a0a0;left:300.82px;transform-origin:0 8.92px;transform:scale(0.8700,1.0);">1396</div>
<div class="t" id="t43" style="top:197.29px;font-size:10.5px;color:#a0a0a0;left:283.17px;transform-origin:0 8.92px;transform:scale(0.8700,1.0);">1300</div>
<div class="t" id="t44" style="top:216.01px;font-size:10.5px;color:#a0a0a0;left:205.38px;transform-origin:0 8.92px;transform:scale(0.8700,1.0);">877</div>
<div class="t" id="t45" style="top:234.73px;font-size:10.5px;color:#a0a0a0;left:174.67px;transform-origin:0 8.92px;transform:scale(0.8700,1.0);">710</div>
<div class="t" id="t46" style="top:253.45px;font-size:10.5px;color:#a0a0a0;left:93.39px;transform-origin:0 8.92px;transform:scale(0.8700,1.0);">268</div>
<div class="t" id="t47" style="top:272.17px;font-size:10.5px;color:#a0a0a0;left:82.90px;transform-origin:0 8.92px;transform:scale(0.8700,1.0);">211</div>
<div class="t" id="t48" style="top:290.89px;font-size:10.5px;color:#a0a0a0;left:68.01px;transform-origin:0 8.92px;transform:scale(0.8700,1.0);">130</div>
<div class="t" id="t49" style="top:309.62px;font-size:10.5px;color:#a0a0a0;left:64.33px;transform-origin:0 8.92px;transform:scale(0.8700,1.0);">110</div>
<div class="t" id="t50" style="top:328.33px;font-size:10.5px;color:#a0a0a0;left:63.23px;transform-origin:0 8.92px;transform:scale(0.8700,1.0);">104</div>
<div class="t" id="t51" style="top:347.05px;font-size:10.5px;color:#a0a0a0;left:61.02px;transform-origin:0 8.92px;transform:scale(0.8700,1.0);">92</div>
<div class="t" id="t52" style="top:365.77px;font-size:10.5px;color:#a0a0a0;left:59.55px;transform-origin:0 8.92px;transform:scale(0.8700,1.0);">84</div>
<div class="t" id="t53" style="top:384.50px;font-size:10.5px;color:#a0a0a0;left:58.81px;transform-origin:0 8.92px;transform:scale(0.8700,1.0);">80</div>
<div class="t" id="t54" style="top:403.21px;font-size:10.5px;color:#a0a0a0;left:57.52px;transform-origin:0 8.92px;transform:scale(0.8700,1.0);">73</div>
<div class="t" id="t55" style="top:421.93px;font-size:10.5px;color:#a0a0a0;left:51.27px;transform-origin:0 8.92px;transform:scale(0.8700,1.0);">39</div>
<div class="t" id="t56" style="top:440.65px;font-size:10.5px;color:#a0a0a0;left:51.09px;transform-origin:0 8.92px;transform:scale(0.8700,1.0);">38</div>
<div class="t" id="t57" style="top:459.37px;font-size:10.5px;color:#a0a0a0;left:48.15px;transform-origin:0 8.92px;transform:scale(0.8700,1.0);">22</div>
<div class="t" id="t58" style="top:478.09px;font-size:10.5px;color:#a0a0a0;left:47.96px;transform-origin:0 8.92px;transform:scale(0.8700,1.0);">21</div>
<div class="t" id="t59" style="top:496.81px;font-size:10.5px;color:#a0a0a0;left:47.59px;transform-origin:0 8.92px;transform:scale(0.8700,1.0);">19</div>
<div class="t" id="t60" style="top:515.53px;font-size:10.5px;color:#a0a0a0;left:47.04px;transform-origin:0 8.92px;transform:scale(0.8700,1.0);">16</div>
<div class="t" id="t61" style="top:534.25px;font-size:10.5px;color:#a0a0a0;left:47.04px;transform-origin:0 8.92px;transform:scale(0.8700,1.0);">16</div>
<div class="t" id="t62" style="top:552.97px;font-size:10.5px;color:#a0a0a0;left:45.94px;transform-origin:0 8.92px;transform:scale(0.8700,1.0);">10</div>
<div class="t" id="t63" style="top:571.69px;font-size:10.5px;color:#a0a0a0;left:45.76px;transform-origin:0 8.92px;transform:scale(0.8700,1.0);">9</div>
<div class="t" id="t64" style="top:589.50px;font-size:12px;color:#1e1e1e;left:16.70px;transform-origin:0 10.20px;transform:scale(0.8196,1.0);">ZH, SO, SH, GL</div>
<div class="t" id="t65" style="top:390.20px;font-size:14px;color:#3a3a3a;left:121.80px;transform-origin:0 11.90px;transform:scale(0.8996,1.0);">Les cantons de Zurich, Schaffhouse,</div>
<div class="t" id="t66" style="top:409.10px;font-size:14px;color:#3a3a3a;left:121.80px;transform-origin:0 11.90px;transform:scale(0.9155,1.0);">Bâle-Ville, Bâle-Campagne et</div>
<div class="t" id="t67" style="top:428.40px;font-size:14px;color:#3a3a3a;left:121.80px;transform-origin:0 11.90px;transform:scale(0.9226,1.0);">Appenzell&nbsp; Rhodes-Extérieures ont</div>
<div class="t" id="t68" style="top:447.70px;font-size:14px;color:#3a3a3a;left:121.80px;transform-origin:0 11.90px;transform:scale(0.9330,1.0);">décidé d'abolir les forfaits fiscaux.</div>
<div class="t" id="t69" style="top:153.97px;font-size:10.5px;color:#111;left:423.60px;transform-origin:0 8.92px;margin-left:-2.92px;transform:scale(1.0000,0.87);">0</div>
<div class="t" id="t70" style="top:153.97px;font-size:10.5px;color:#111;left:485.28px;transform-origin:0 8.92px;margin-left:-5.84px;transform:scale(1.0000,0.87);">50</div>
<div class="t" id="t71" style="top:153.97px;font-size:10.5px;color:#111;left:546.95px;transform-origin:0 8.92px;margin-left:-8.77px;transform:scale(1.0000,0.87);">100</div>
<div class="t" id="t72" style="top:153.97px;font-size:10.5px;color:#111;left:608.62px;transform-origin:0 8.92px;margin-left:-8.77px;transform:scale(1.0000,0.87);">150</div>
<div class="t" id="t73" style="top:153.97px;font-size:10.5px;color:#111;left:670.30px;transform-origin:0 8.92px;margin-left:-8.77px;transform:scale(1.0000,0.87);">200</div>
<div class="t" id="t74" style="top:152.50px;font-size:12px;color:#222;left:682.70px;transform-origin:0 10.20px;transform:scale(0.9921,1.0);">millions</div>
<div class="t" id="t75" style="top:177.60px;font-size:12px;color:#1e1e1e;right:325.40px;transform-origin:100% 10.20px;transform:scale(0.9300,1.0);">VD</div>
<div class="t" id="t76" style="top:196.32px;font-size:12px;color:#1e1e1e;right:325.40px;transform-origin:100% 10.20px;transform:scale(0.9300,1.0);">VS</div>
<div class="t" id="t77" style="top:195.32px;font-size:12px;color:#1e1e1e;left:414.90px;transform-origin:0 10.20px;">*</div>
<div class="t" id="t78" style="top:215.04px;font-size:12px;color:#1e1e1e;right:325.40px;transform-origin:100% 10.20px;transform:scale(0.9300,1.0);">TI</div>
<div class="t" id="t79" style="top:233.76px;font-size:12px;color:#1e1e1e;right:325.40px;transform-origin:100% 10.20px;transform:scale(0.9300,1.0);">GE</div>
<div class="t" id="t80" style="top:232.76px;font-size:12px;color:#1e1e1e;left:414.90px;transform-origin:0 10.20px;">*</div>
<div class="t" id="t81" style="top:252.48px;font-size:12px;color:#1e1e1e;right:325.40px;transform-origin:100% 10.20px;transform:scale(0.9300,1.0);">GR</div>
<div class="t" id="t82" style="top:271.20px;font-size:12px;color:#1e1e1e;right:325.40px;transform-origin:100% 10.20px;transform:scale(0.9300,1.0);">BE</div>
<div class="t" id="t83" style="top:289.92px;font-size:12px;color:#1e1e1e;right:325.40px;transform-origin:100% 10.20px;transform:scale(0.9300,1.0);">LU</div>
<div class="t" id="t84" style="top:308.64px;font-size:12px;color:#1e1e1e;right:325.40px;transform-origin:100% 10.20px;transform:scale(0.9300,1.0);">ZG</div>
<div class="t" id="t85" style="top:327.36px;font-size:12px;color:#1e1e1e;right:325.40px;transform-origin:100% 10.20px;transform:scale(0.9300,1.0);">TG</div>
<div class="t" id="t86" style="top:346.08px;font-size:12px;color:#1e1e1e;right:325.40px;transform-origin:100% 10.20px;transform:scale(0.9300,1.0);">SZ</div>
<div class="t" id="t87" style="top:345.08px;font-size:12px;color:#1e1e1e;left:414.90px;transform-origin:0 10.20px;">*</div>
<div class="t" id="t88" style="top:364.80px;font-size:12px;color:#1e1e1e;right:325.40px;transform-origin:100% 10.20px;transform:scale(0.9300,1.0);">NW</div>
<div class="t" id="t89" style="top:383.52px;font-size:12px;color:#1e1e1e;right:325.40px;transform-origin:100% 10.20px;transform:scale(0.9300,1.0);">FR</div>
<div class="t" id="t90" style="top:402.24px;font-size:12px;color:#1e1e1e;right:325.40px;transform-origin:100% 10.20px;transform:scale(0.9300,1.0);">SG</div>
<div class="t" id="t91" style="top:420.96px;font-size:12px;color:#1e1e1e;right:325.40px;transform-origin:100% 10.20px;transform:scale(0.9300,1.0);">NE</div>
<div class="t" id="t92" style="top:439.68px;font-size:12px;color:#1e1e1e;right:325.40px;transform-origin:100% 10.20px;transform:scale(0.9300,1.0);">OW</div>
<div class="t" id="t93" style="top:458.40px;font-size:12px;color:#1e1e1e;right:325.40px;transform-origin:100% 10.20px;transform:scale(0.9300,1.0);">JU</div>
<div class="t" id="t94" style="top:477.12px;font-size:12px;color:#1e1e1e;right:325.40px;transform-origin:100% 10.20px;transform:scale(0.9300,1.0);">AI</div>
<div class="t" id="t95" style="top:495.84px;font-size:12px;color:#1e1e1e;right:325.40px;transform-origin:100% 10.20px;transform:scale(0.9300,1.0);">AR</div>
<div class="t" id="t96" style="top:514.56px;font-size:12px;color:#1e1e1e;right:325.40px;transform-origin:100% 10.20px;transform:scale(0.9300,1.0);">BS</div>
<div class="t" id="t97" style="top:513.56px;font-size:12px;color:#1e1e1e;left:414.90px;transform-origin:0 10.20px;">*</div>
<div class="t" id="t98" style="top:533.28px;font-size:12px;color:#1e1e1e;right:325.40px;transform-origin:100% 10.20px;transform:scale(0.9300,1.0);">AG</div>
<div class="t" id="t99" style="top:552.00px;font-size:12px;color:#1e1e1e;right:325.40px;transform-origin:100% 10.20px;transform:scale(0.9300,1.0);">BL</div>
<div class="t" id="t100" style="top:570.72px;font-size:12px;color:#1e1e1e;right:325.40px;transform-origin:100% 10.20px;transform:scale(0.9300,1.0);">UR</div>
<div class="t" id="t101" style="top:177.18px;font-size:10.5px;color:#a0a0a0;left:684.60px;transform-origin:0 8.92px;transform:scale(0.8700,1.0);">207.8</div>
<div class="t" id="t102" style="top:195.90px;font-size:10.5px;color:#a0a0a0;left:528.60px;transform-origin:0 8.92px;transform:scale(0.8700,1.0);">82.5</div>
<div class="t" id="t103" style="top:214.62px;font-size:10.5px;color:#a0a0a0;left:514.60px;transform-origin:0 8.92px;transform:scale(0.8700,1.0);">72</div>
<div class="t" id="t104" style="top:233.34px;font-size:10.5px;color:#a0a0a0;left:620.20px;transform-origin:0 8.92px;transform:scale(0.8700,1.0);">155.7</div>
<div class="t" id="t105" style="top:252.06px;font-size:10.5px;color:#a0a0a0;left:487.60px;transform-origin:0 8.92px;transform:scale(0.8700,1.0);">49.1</div>
<div class="t" id="t106" style="top:270.77px;font-size:10.5px;color:#a0a0a0;left:460.60px;transform-origin:0 8.92px;transform:scale(0.8700,1.0);">27.2</div>
<div class="t" id="t107" style="top:289.50px;font-size:10.5px;color:#a0a0a0;left:449.20px;transform-origin:0 8.92px;transform:scale(0.8700,1.0);">18.2</div>
<div class="t" id="t108" style="top:308.22px;font-size:10.5px;color:#a0a0a0;left:449.80px;transform-origin:0 8.92px;transform:scale(0.8700,1.0);">18.6</div>
<div class="t" id="t109" style="top:326.94px;font-size:10.5px;color:#a0a0a0;left:436.50px;transform-origin:0 8.92px;transform:scale(0.8700,1.0);">8.7</div>
<div class="t" id="t110" style="top:345.65px;font-size:10.5px;color:#a0a0a0;left:446.50px;transform-origin:0 8.92px;transform:scale(0.8700,1.0);">15.03</div>
<div class="t" id="t111" style="top:364.38px;font-size:10.5px;color:#a0a0a0;left:435.80px;transform-origin:0 8.92px;transform:scale(0.8700,1.0);">8.2</div>
<div class="t" id="t112" style="top:383.10px;font-size:10.5px;color:#a0a0a0;left:430.30px;transform-origin:0 8.92px;transform:scale(0.8700,1.0);">3.6</div>
<div class="t" id="t113" style="top:401.81px;font-size:10.5px;color:#a0a0a0;left:438.40px;transform-origin:0 8.92px;transform:scale(0.8700,1.0);">9.46</div>
<div class="t" id="t114" style="top:420.53px;font-size:10.5px;color:#a0a0a0;left:431.40px;transform-origin:0 8.92px;transform:scale(0.8700,1.0);">3.91</div>
<div class="t" id="t115" style="top:439.25px;font-size:10.5px;color:#a0a0a0;left:432.40px;transform-origin:0 8.92px;transform:scale(0.8700,1.0);">5.4</div>
<div class="t" id="t116" style="top:457.97px;font-size:10.5px;color:#a0a0a0;left:427.10px;transform-origin:0 8.92px;transform:scale(0.8700,1.0);">1.3</div>
<div class="t" id="t117" style="top:476.69px;font-size:10.5px;color:#a0a0a0;left:428.60px;transform-origin:0 8.92px;transform:scale(0.8700,1.0);">1.58</div>
<div class="t" id="t118" style="top:495.42px;font-size:10.5px;color:#a0a0a0;left:428.10px;transform-origin:0 8.92px;transform:scale(0.8700,1.0);">1.28</div>
<div class="t" id="t119" style="top:514.13px;font-size:10.5px;color:#a0a0a0;left:429.60px;transform-origin:0 8.92px;transform:scale(0.8700,1.0);">2.15</div>
<div class="t" id="t120" style="top:532.86px;font-size:10.5px;color:#a0a0a0;left:427.80px;transform-origin:0 8.92px;transform:scale(0.8700,1.0);">1.47</div>
<div class="t" id="t121" style="top:551.58px;font-size:10.5px;color:#a0a0a0;left:428.70px;transform-origin:0 8.92px;transform:scale(0.8700,1.0);">0.94</div>
<div class="t" id="t122" style="top:570.30px;font-size:10.5px;color:#a0a0a0;left:428.00px;transform-origin:0 8.92px;transform:scale(0.8700,1.0);">0.82</div>
<div class="t" id="t123" style="top:589.50px;font-size:12px;color:#1e1e1e;left:398.90px;transform-origin:0 10.20px;transform:scale(0.8243,1.0);">ZH, SO, SH, GL</div>
<div class="t" id="t124" style="top:385.57px;font-size:12.5px;color:#444;left:588.00px;transform-origin:0 10.62px;transform:scale(0.9011,1.0);">impôt fédéral direct</div>
<div class="t" id="t125" style="top:409.77px;font-size:12.5px;color:#444;left:588.00px;transform-origin:0 10.62px;transform:scale(0.9039,1.0);">impôt cantonal</div>
<div class="t" id="t126" style="top:431.38px;font-size:12.5px;color:#444;left:588.00px;transform-origin:0 10.62px;transform:scale(0.9193,1.0);">impôt communal</div>
<div class="t" id="t127" style="top:636.90px;font-size:14px;color:#3a3a3a;left:18.40px;transform-origin:0 11.90px;transform:scale(0.9202,1.0);">Pour l'ensemble des cantons, les forfaits fiscaux représentent</div>
<div class="t" id="t128" style="top:636.90px;font-size:14px;color:#111;font-weight:bold;left:372.50px;transform-origin:0 11.90px;transform:scale(0.8913,1.0);">moins de 0.8 % du total des recettes fiscales cantonales</div>
<div class="t" id="t129" style="top:636.90px;font-size:14px;color:#3a3a3a;left:706.80px;transform-origin:0 11.90px;">.</div>
<div class="t" id="t130" style="top:656.30px;font-size:14px;color:#3a3a3a;left:18.40px;transform-origin:0 11.90px;transform:scale(0.9257,1.0);">Au niveau fédéral, ils correspondent au 0.3% des revenus fiscaux totaux de la conféderation.</div>
<div class="t" id="t131" style="top:692.97px;font-size:14.5px;color:#151515;font-weight:bold;left:188.10px;transform-origin:0 12.32px;transform:scale(0.9244,1.0);">Part en % des forfaits fiscaux aux recettes cantonales totales</div>
<div class="t" id="t132" style="top:717.20px;font-size:10px;color:#111;left:42.50px;transform-origin:0 8.50px;margin-left:-2.78px;transform:scale(1.0000,0.87);">0</div>
<div class="t" id="t133" style="top:717.20px;font-size:10px;color:#111;left:134.50px;transform-origin:0 8.50px;margin-left:-2.78px;transform:scale(1.0000,0.87);">1</div>
<div class="t" id="t134" style="top:717.20px;font-size:10px;color:#111;left:226.50px;transform-origin:0 8.50px;margin-left:-2.78px;transform:scale(1.0000,0.87);">2</div>
<div class="t" id="t135" style="top:717.20px;font-size:10px;color:#111;left:318.50px;transform-origin:0 8.50px;margin-left:-2.78px;transform:scale(1.0000,0.87);">3</div>
<div class="t" id="t136" style="top:738.50px;font-size:12px;color:#1e1e1e;right:706.90px;transform-origin:100% 10.20px;transform:scale(0.9300,1.0);">VD</div>
<div class="t" id="t137" style="top:757.22px;font-size:12px;color:#1e1e1e;right:706.90px;transform-origin:100% 10.20px;transform:scale(0.9300,1.0);">VS</div>
<div class="t" id="t138" style="top:756.22px;font-size:12px;color:#1e1e1e;left:33.40px;transform-origin:0 10.20px;">*</div>
<div class="t" id="t139" style="top:775.94px;font-size:12px;color:#1e1e1e;right:706.90px;transform-origin:100% 10.20px;transform:scale(0.9300,1.0);">TI</div>
<div class="t" id="t140" style="top:794.66px;font-size:12px;color:#1e1e1e;right:706.90px;transform-origin:100% 10.20px;transform:scale(0.9300,1.0);">GE</div>
<div class="t" id="t141" style="top:793.66px;font-size:12px;color:#1e1e1e;left:33.40px;transform-origin:0 10.20px;">*</div>
<div class="t" id="t142" style="top:813.38px;font-size:12px;color:#1e1e1e;right:706.90px;transform-origin:100% 10.20px;transform:scale(0.9300,1.0);">GR</div>
<div class="t" id="t143" style="top:832.10px;font-size:12px;color:#1e1e1e;right:706.90px;transform-origin:100% 10.20px;transform:scale(0.9300,1.0);">BE</div>
<div class="t" id="t144" style="top:850.82px;font-size:12px;color:#1e1e1e;right:706.90px;transform-origin:100% 10.20px;transform:scale(0.9300,1.0);">LU</div>
<div class="t" id="t145" style="top:869.54px;font-size:12px;color:#1e1e1e;right:706.90px;transform-origin:100% 10.20px;transform:scale(0.9300,1.0);">ZG</div>
<div class="t" id="t146" style="top:888.26px;font-size:12px;color:#1e1e1e;right:706.90px;transform-origin:100% 10.20px;transform:scale(0.9300,1.0);">TG</div>
<div class="t" id="t147" style="top:906.98px;font-size:12px;color:#1e1e1e;right:706.90px;transform-origin:100% 10.20px;transform:scale(0.9300,1.0);">SZ</div>
<div class="t" id="t148" style="top:905.98px;font-size:12px;color:#1e1e1e;left:33.40px;transform-origin:0 10.20px;">*</div>
<div class="t" id="t149" style="top:925.70px;font-size:12px;color:#1e1e1e;right:706.90px;transform-origin:100% 10.20px;transform:scale(0.9300,1.0);">NW</div>
<div class="t" id="t150" style="top:944.42px;font-size:12px;color:#1e1e1e;right:706.90px;transform-origin:100% 10.20px;transform:scale(0.9300,1.0);">FR</div>
<div class="t" id="t151" style="top:963.14px;font-size:12px;color:#1e1e1e;right:706.90px;transform-origin:100% 10.20px;transform:scale(0.9300,1.0);">SG</div>
<div class="t" id="t152" style="top:981.86px;font-size:12px;color:#1e1e1e;right:706.90px;transform-origin:100% 10.20px;transform:scale(0.9300,1.0);">NE</div>
<div class="t" id="t153" style="top:1000.58px;font-size:12px;color:#1e1e1e;right:706.90px;transform-origin:100% 10.20px;transform:scale(0.9300,1.0);">OW</div>
<div class="t" id="t154" style="top:1019.30px;font-size:12px;color:#1e1e1e;right:706.90px;transform-origin:100% 10.20px;transform:scale(0.9300,1.0);">JU</div>
<div class="t" id="t155" style="top:1038.02px;font-size:12px;color:#1e1e1e;right:706.90px;transform-origin:100% 10.20px;transform:scale(0.9300,1.0);">AI</div>
<div class="t" id="t156" style="top:1056.74px;font-size:12px;color:#1e1e1e;right:706.90px;transform-origin:100% 10.20px;transform:scale(0.9300,1.0);">AR</div>
<div class="t" id="t157" style="top:1075.46px;font-size:12px;color:#1e1e1e;right:706.90px;transform-origin:100% 10.20px;transform:scale(0.9300,1.0);">BS</div>
<div class="t" id="t158" style="top:1074.46px;font-size:12px;color:#1e1e1e;left:33.40px;transform-origin:0 10.20px;">*</div>
<div class="t" id="t159" style="top:1094.18px;font-size:12px;color:#1e1e1e;right:706.90px;transform-origin:100% 10.20px;transform:scale(0.9300,1.0);">AG</div>
<div class="t" id="t160" style="top:1112.90px;font-size:12px;color:#1e1e1e;right:706.90px;transform-origin:100% 10.20px;transform:scale(0.9300,1.0);">BL</div>
<div class="t" id="t161" style="top:1131.62px;font-size:12px;color:#1e1e1e;right:706.90px;transform-origin:100% 10.20px;transform:scale(0.9300,1.0);">UR</div>
<div class="t" id="t162" style="top:739.18px;font-size:10.5px;color:#a0a0a0;left:229.70px;transform-origin:0 8.92px;transform:scale(0.8700,1.0);">2.00</div>
<div class="t" id="t163" style="top:757.90px;font-size:10.5px;color:#a0a0a0;left:284.75px;transform-origin:0 8.92px;transform:scale(0.8700,1.0);">2.60</div>
<div class="t" id="t164" style="top:776.62px;font-size:10.5px;color:#a0a0a0;left:194.84px;transform-origin:0 8.92px;transform:scale(0.8700,1.0);">1.62</div>
<div class="t" id="t165" style="top:795.34px;font-size:10.5px;color:#a0a0a0;left:185.66px;transform-origin:0 8.92px;transform:scale(0.8700,1.0);">1.52</div>
<div class="t" id="t166" style="top:814.06px;font-size:10.5px;color:#a0a0a0;left:311.36px;transform-origin:0 8.92px;transform:scale(0.8700,1.0);">2.89</div>
<div class="t" id="t167" style="top:832.78px;font-size:10.5px;color:#a0a0a0;left:72.81px;transform-origin:0 8.92px;transform:scale(0.8700,1.0);">0.29</div>
<div class="t" id="t168" style="top:851.50px;font-size:10.5px;color:#a0a0a0;left:102.17px;transform-origin:0 8.92px;transform:scale(0.8700,1.0);">0.61</div>
<div class="t" id="t169" style="top:870.22px;font-size:10.5px;color:#a0a0a0;left:137.95px;transform-origin:0 8.92px;transform:scale(0.8700,1.0);">1.00</div>
<div class="t" id="t170" style="top:888.94px;font-size:10.5px;color:#a0a0a0;left:79.23px;transform-origin:0 8.92px;transform:scale(0.8700,1.0);">0.36</div>
<div class="t" id="t171" style="top:907.66px;font-size:10.5px;color:#a0a0a0;left:115.01px;transform-origin:0 8.92px;transform:scale(0.8700,1.0);">0.75</div>
<div class="t" id="t172" style="top:926.38px;font-size:10.5px;color:#a0a0a0;left:191.16px;transform-origin:0 8.92px;transform:scale(0.8700,1.0);">1.58</div>
<div class="t" id="t173" style="top:945.10px;font-size:10.5px;color:#a0a0a0;left:59.04px;transform-origin:0 8.92px;transform:scale(0.8700,1.0);">0.14</div>
<div class="t" id="t174" style="top:963.82px;font-size:10.5px;color:#a0a0a0;left:64.55px;transform-origin:0 8.92px;transform:scale(0.8700,1.0);">0.20</div>
<div class="t" id="t175" style="top:982.54px;font-size:10.5px;color:#a0a0a0;left:65.47px;transform-origin:0 8.92px;transform:scale(0.8700,1.0);">0.21</div>
<div class="t" id="t176" style="top:1001.26px;font-size:10.5px;color:#a0a0a0;left:178.32px;transform-origin:0 8.92px;transform:scale(0.8700,1.0);">1.44</div>
<div class="t" id="t177" style="top:1019.98px;font-size:10.5px;color:#a0a0a0;left:65.47px;transform-origin:0 8.92px;transform:scale(0.8700,1.0);">0.21</div>
<div class="t" id="t178" style="top:1038.69px;font-size:10.5px;color:#a0a0a0;left:142.54px;transform-origin:0 8.92px;transform:scale(0.8700,1.0);">1.05</div>
<div class="t" id="t179" style="top:1057.42px;font-size:10.5px;color:#a0a0a0;left:72.81px;transform-origin:0 8.92px;transform:scale(0.8700,1.0);">0.29</div>
<div class="t" id="t180" style="top:1076.13px;font-size:10.5px;color:#a0a0a0;left:51.70px;transform-origin:0 8.92px;transform:scale(0.8700,1.0);">0.06</div>
<div class="t" id="t181" style="top:1094.86px;font-size:10.5px;color:#a0a0a0;left:48.95px;transform-origin:0 8.92px;transform:scale(0.8700,1.0);">0.03</div>
<div class="t" id="t182" style="top:1113.58px;font-size:10.5px;color:#a0a0a0;left:48.95px;transform-origin:0 8.92px;transform:scale(0.8700,1.0);">0.03</div>
<div class="t" id="t183" style="top:1132.30px;font-size:10.5px;color:#a0a0a0;left:79.23px;transform-origin:0 8.92px;transform:scale(0.8700,1.0);">0.36</div>
<div class="t" id="t184" style="top:1150.30px;font-size:12px;color:#1e1e1e;left:17.80px;transform-origin:0 10.20px;transform:scale(0.8185,1.0);">ZH, SO, SH, GL</div>
<div class="t" id="t185" style="top:734.45px;font-size:11px;color:#222;left:634.70px;transform-origin:0 9.35px;transform:scale(0.9539,1.0);">0 - 0.5 %</div>
<div class="t" id="t186" style="top:755.95px;font-size:11px;color:#222;left:634.70px;transform-origin:0 9.35px;transform:scale(0.9016,1.0);">0.5 - 1 %</div>
<div class="t" id="t187" style="top:777.35px;font-size:11px;color:#222;left:634.70px;transform-origin:0 9.35px;transform:scale(0.8471,1.0);">1 - 1.5 %</div>
<div class="t" id="t188" style="top:798.65px;font-size:11px;color:#222;left:634.70px;transform-origin:0 9.35px;transform:scale(0.8653,1.0);">1.5 - 2 %</div>
<div class="t" id="t189" style="top:819.95px;font-size:11px;color:#222;left:634.70px;transform-origin:0 9.35px;transform:scale(0.9016,1.0);">2.5 - 3 %</div>
<div class="t" id="t190" style="top:1189.15px;font-size:13px;color:#333;font-style:italic;left:16.20px;transform-origin:0 11.05px;transform:scale(0.8632,1.0);">* données 2011</div>
<div class="t" id="t191" style="top:1189.15px;font-size:13px;color:#3a3a3a;font-style:italic;left:220.60px;transform-origin:0 11.05px;transform:scale(0.7657,1.0);">Sources: Conférence des directeurs cantonaux des finances, Administration fédérale des finances</div>
<div class="t" id="t192" style="top:1191.48px;font-size:10.5px;color:#333;left:678.90px;transform-origin:0 8.92px;transform:scale(0.9733,1.0);">swissinfo.ch</div>
</body></html>
